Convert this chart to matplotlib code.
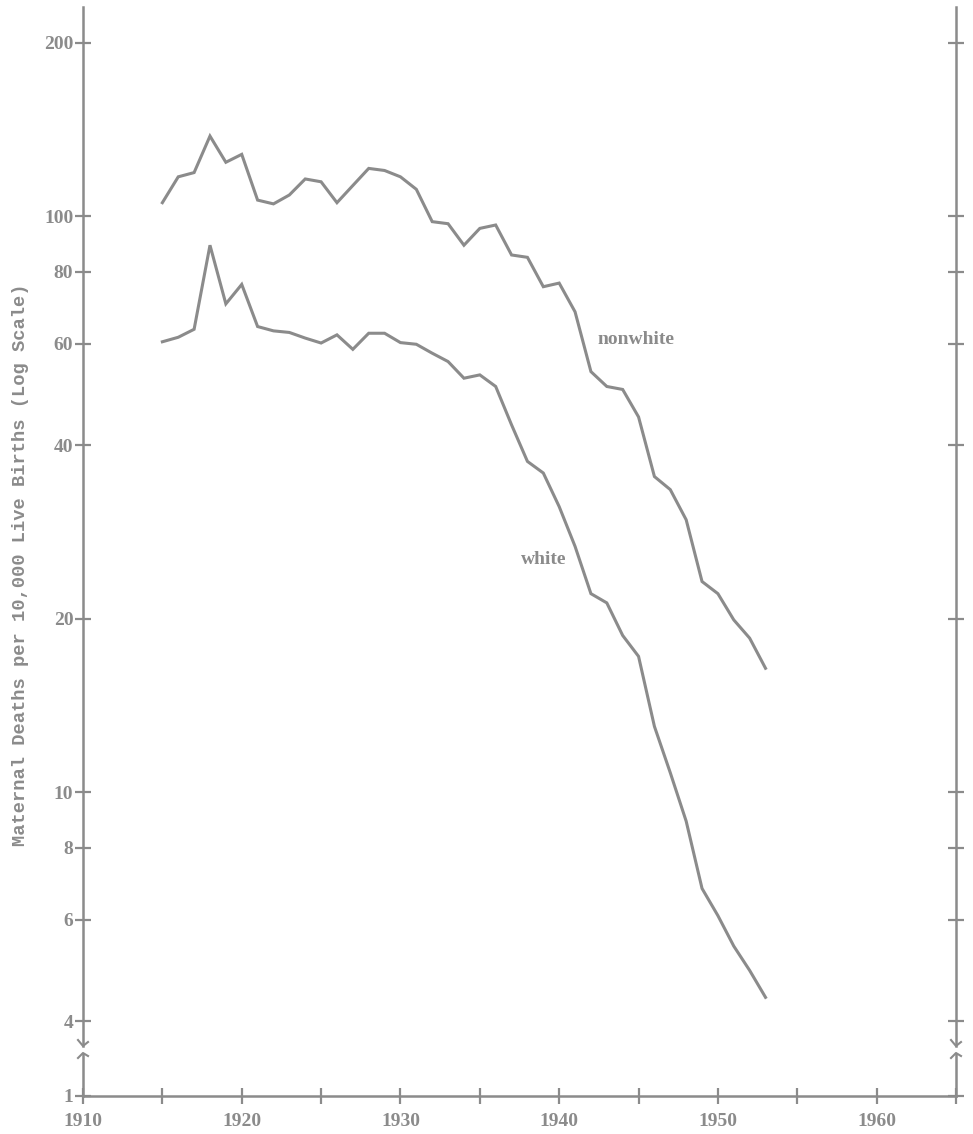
import numpy as np
import matplotlib.pyplot as plt
from matplotlib.lines import Line2D
from matplotlib.ticker import NullLocator

# maternal deaths per 10,000 live births
years = np.arange(1915, 1954)
nonwhite = [105.5, 117, 119, 137.7, 124, 128, 106.6, 105, 108.8, 116,
            114.7, 105.5, 113, 121, 120, 117, 111.3, 97.8, 97, 89,
            95.2, 96.5, 85.6, 84.8, 75.4, 76.5, 68.2, 53.7, 50.6, 50,
            44.8, 35.3, 33.5, 29.7, 23.2, 22.1, 19.9, 18.5, 16.4]
white = [60.5, 61.6, 63.6, 89, 70.4, 76.1, 64.3, 63.2, 62.8, 61.4,
         60.2, 62.2, 58.7, 62.6, 62.6, 60.3, 59.9, 57.8, 55.9, 52.3,
         53, 50.6, 43.4, 37.5, 35.8, 31.3, 26.7, 22.1, 21.3, 18.7,
         17.2, 13, 10.8, 8.9, 6.8, 6.1, 5.4, 4.9, 4.4]

y_ticks = [4, 6, 8, 10, 20, 40, 60, 80, 100, 200]
y_floor = 2.966          # where the broken axis shows "1"
x_ticks = np.arange(1910, 1966, 5)
x_labels = [str(y) if y % 10 == 0 and y < 1965 else '' for y in x_ticks]

c = '#8b8b8b'
W, H = 973, 1134
tick_font = dict(family='Liberation Serif', weight='bold', size=14, color=c)

fig = plt.figure(figsize=(W / 100, H / 100), dpi=100)
ax = fig.add_axes([83 / W, (H - 1096) / H, (956 - 83) / W, (1096 - 7) / H])

ax.plot(years, nonwhite, color=c, lw=2.2, solid_joinstyle='miter')
ax.plot(years, white, color=c, lw=2.2, solid_joinstyle='miter')

ax.set_yscale('log')
ax.set_ylim(y_floor, 230.7)
ax.set_xlim(1910, 1965)

ax.set_yticks(y_ticks + [y_floor])
ax.set_yticklabels([str(v) for v in y_ticks] + ['1'], fontdict=tick_font)
ax.yaxis.set_minor_locator(NullLocator())
ax.set_xticks(x_ticks)
ax.set_xticklabels(x_labels, fontdict=tick_font)

ax.tick_params(axis='y', direction='inout', length=12, width=1.6, color=c,
               left=True, right=True, labelright=False, pad=1)
ax.tick_params(axis='x', direction='inout', length=12, width=1.6, color=c, pad=6)

for s in ['top', 'left', 'right']:
    ax.spines[s].set_visible(False)
ax.spines['bottom'].set_color(c)
ax.spines['bottom'].set_linewidth(1.8)

# vertical axes with the break near the bottom
gap_hi, gap_lo = (1096 - 1046) / 1089, (1096 - 1054) / 1089
for xa in [0, 1]:
    ax.plot([xa, xa], [gap_hi, 1], color=c, lw=1.8, transform=ax.transAxes, clip_on=False)
    ax.plot([xa, xa], [0, gap_lo], color=c, lw=1.8, transform=ax.transAxes, clip_on=False)


def px(pts):
    return [p[0] / W for p in pts], [1 - p[1] / H for p in pts]


for x0 in [83, 956]:
    for pts in ([(x0 - 5, 1040), (x0, 1046), (x0 + 5, 1042)],
                [(x0 - 5, 1058), (x0, 1053), (x0 + 5, 1056)]):
        xs, ys = px(pts)
        fig.add_artist(Line2D(xs, ys, color=c, lw=1.5, transform=fig.transFigure))

ax.text(1942.4, 61, 'nonwhite', va='center', ha='left',
        family='Liberation Serif', weight='bold', size=14, color=c)
ax.text(1937.6, 25.3, 'white', va='center', ha='left',
        family='Liberation Serif', weight='bold', size=14, color=c)

fig.text(21 / W, 1 - 565 / H, 'Maternal Deaths per 10,000 Live Births (Log Scale)',
         rotation=90, ha='center', va='center', family='Liberation Mono',
         weight='bold', size=13.5, color=c)

fig.savefig('out.png', dpi=100, facecolor='white')
